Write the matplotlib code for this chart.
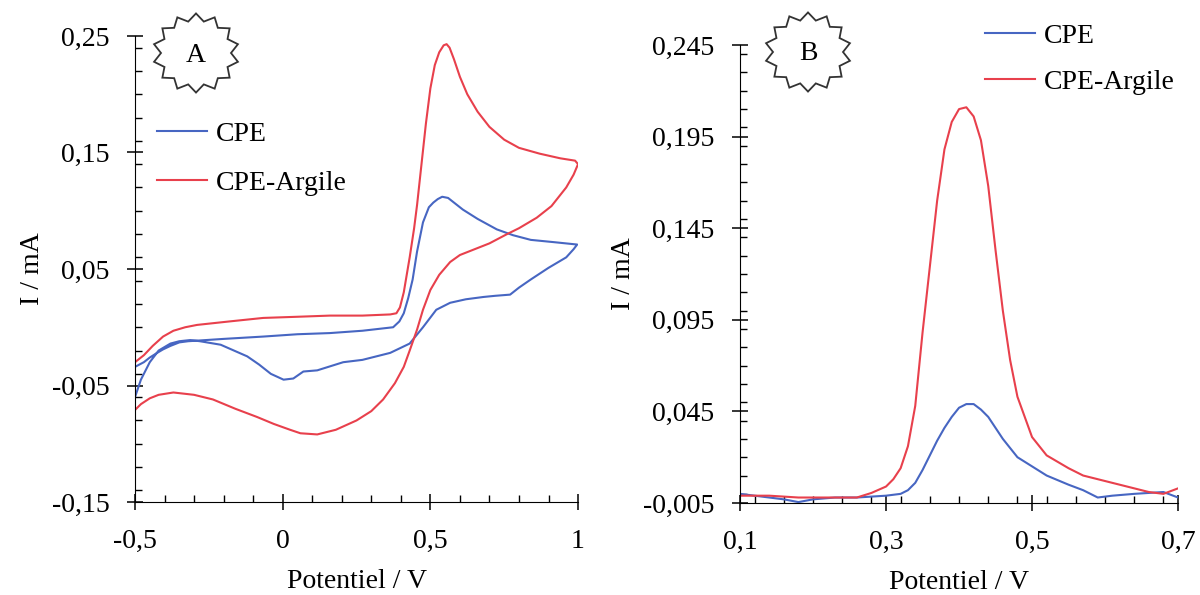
import matplotlib
matplotlib.use("Agg")
import matplotlib.pyplot as plt
from matplotlib.ticker import MultipleLocator, FixedLocator, FuncFormatter
from matplotlib.patches import Polygon
import numpy as np

plt.rcParams['font.family'] = ['Liberation Serif', 'DejaVu Serif']
plt.rcParams['font.size'] = 20

# ---- panel A : voltammetrie cyclique (potentiel V, courant mA)
cpe_cv_x = [-0.50, -0.47, -0.45, -0.425, -0.405, -0.38, -0.35, -0.32, -0.20, -0.066, 0.05, 0.16, 0.27,
            0.374, 0.395, 0.41, 0.425, 0.44, 0.455, 0.475, 0.495, 0.51, 0.525, 0.54, 0.56, 0.585,
            0.61, 0.66, 0.725, 0.78, 0.84, 0.92, 0.997,
            0.985, 0.96, 0.90, 0.84, 0.80, 0.77, 0.72, 0.68, 0.62, 0.567, 0.52, 0.475, 0.43, 0.364,
            0.27, 0.205, 0.117, 0.07, 0.036, 0.003, -0.04, -0.08, -0.12, -0.21, -0.28, -0.313,
            -0.35, -0.38, -0.42, -0.45, -0.48, -0.50]
cpe_cv_y = [-0.034, -0.030, -0.026, -0.022, -0.019, -0.016, -0.013, -0.012, -0.010, -0.008, -0.006,
            -0.005, -0.003, 0.000, 0.005, 0.012, 0.025, 0.041, 0.065, 0.090, 0.103, 0.107, 0.110,
            0.112, 0.111, 0.106, 0.101, 0.093, 0.084, 0.079, 0.075, 0.073, 0.071,
            0.067, 0.060, 0.051, 0.041, 0.034, 0.028, 0.027, 0.026, 0.024, 0.021, 0.015, 0.000,
            -0.014, -0.022, -0.028, -0.030, -0.037, -0.038, -0.044, -0.045, -0.040, -0.032, -0.025,
            -0.015, -0.012, -0.011, -0.012, -0.014, -0.020, -0.030, -0.045, -0.060]

arg_cv_x = [-0.50, -0.47, -0.44, -0.405, -0.37, -0.33, -0.29, -0.18, -0.066, 0.05, 0.16, 0.27,
            0.364, 0.385, 0.397, 0.41, 0.43, 0.445, 0.455, 0.47, 0.485, 0.50, 0.515, 0.53, 0.545,
            0.555, 0.565, 0.58, 0.60, 0.625, 0.66, 0.70, 0.75, 0.80, 0.87, 0.94, 0.99, 1.0,
            0.985, 0.96, 0.91, 0.86, 0.80, 0.76, 0.70, 0.65, 0.60, 0.567, 0.53, 0.50, 0.475,
            0.455, 0.43, 0.41, 0.38, 0.34, 0.30, 0.25, 0.18, 0.117, 0.06, 0.025, -0.03, -0.087,
            -0.16, -0.236, -0.30, -0.37, -0.42, -0.45, -0.48, -0.50]
arg_cv_y = [-0.030, -0.024, -0.016, -0.008, -0.003, 0.000, 0.002, 0.005, 0.008, 0.009, 0.010,
            0.010, 0.011, 0.012, 0.017, 0.030, 0.060, 0.085, 0.105, 0.140, 0.175, 0.205, 0.225,
            0.236, 0.242, 0.243, 0.240, 0.230, 0.215, 0.200, 0.185, 0.172, 0.161, 0.154, 0.149,
            0.145, 0.143, 0.140,
            0.131, 0.120, 0.104, 0.094, 0.085, 0.080, 0.072, 0.067, 0.062, 0.056, 0.045, 0.032,
            0.015, -0.002, -0.020, -0.034, -0.048, -0.062, -0.072, -0.080, -0.088, -0.092, -0.091,
            -0.088, -0.083, -0.077, -0.070, -0.062, -0.058, -0.056, -0.058, -0.061, -0.066, -0.071]

# ---- panel B : voltammetrie a impulsion differentielle
dpv_x = [0.10, 0.12, 0.14, 0.16, 0.18, 0.20, 0.23, 0.26, 0.28, 0.30, 0.31, 0.32, 0.33, 0.34,
         0.35, 0.36, 0.37, 0.38, 0.39, 0.40, 0.41, 0.42, 0.43, 0.44, 0.45, 0.46, 0.47,
         0.48, 0.50, 0.52, 0.55, 0.57, 0.59, 0.61, 0.64, 0.66, 0.68, 0.70]
cpe_dpv = [0.000, -0.001, -0.002, -0.003, -0.0045, -0.003, -0.002, -0.002, -0.0015, -0.001, -0.0005,
           0.000, 0.002, 0.006, 0.013, 0.021, 0.029, 0.036, 0.042, 0.047, 0.049, 0.049, 0.046,
           0.042, 0.036, 0.030, 0.025, 0.020, 0.015, 0.010, 0.005, 0.002, -0.002, -0.001, 0.000,
           0.0005, 0.001, -0.002]
arg_dpv = [-0.001, -0.001, -0.001, -0.0015, -0.002, -0.002, -0.002, -0.002, 0.0005, 0.004, 0.008,
           0.014, 0.026, 0.048, 0.088, 0.124, 0.160, 0.188, 0.203, 0.210, 0.211, 0.206, 0.193,
           0.168, 0.133, 0.100, 0.073, 0.053, 0.031, 0.021, 0.014, 0.010, 0.008, 0.006, 0.003,
           0.001, 0.000, 0.003]

xticks_a = [-0.5, 0, 0.5, 1]
yticks_a = [-0.15, -0.05, 0.05, 0.15, 0.25]
xticks_b = [0.1, 0.3, 0.5, 0.7]
yticks_b = [-0.005, 0.045, 0.095, 0.145, 0.195, 0.245]

blue = '#4766c2'
red = '#e8404c'


def virgule(v, pos=None):
    s = ('%.3f' % v).rstrip('0').rstrip('.')
    if s in ('-0', ''):
        s = '0'
    return s.replace('.', ',')


def style(ax, xt, yt, xminor, yminor):
    for side in ['top', 'right']:
        ax.spines[side].set_visible(False)
    ax.xaxis.set_major_locator(FixedLocator(xt))
    ax.yaxis.set_major_locator(FixedLocator(yt))
    ax.xaxis.set_minor_locator(MultipleLocator(xminor))
    ax.yaxis.set_minor_locator(MultipleLocator(yminor))
    ax.xaxis.set_major_formatter(FuncFormatter(virgule))
    ax.yaxis.set_major_formatter(FuncFormatter(virgule))
    ax.tick_params(which='major', direction='inout', length=11, width=1.1)
    ax.tick_params(which='minor', direction='in', length=5, width=1.0)
    ax.tick_params(axis='y', which='major', pad=13)
    ax.tick_params(axis='x', which='major', pad=14)
    ax.set_xlabel('Potentiel / V', labelpad=11)
    ax.set_ylabel('I / mA', labelpad=5)


fig = plt.figure(figsize=(12, 5.95), dpi=100)

axA = fig.add_axes([0.1125, 0.1563, 0.3692, 0.7832])
axA.plot(cpe_cv_x, cpe_cv_y, color=blue, lw=1.5, label='CPE')
axA.plot(arg_cv_x, arg_cv_y, color=red, lw=1.5, label='CPE-Argile')
axA.set_xlim(-0.5, 1)
axA.set_ylim(-0.15, 0.25)
style(axA, xticks_a, yticks_a, 0.1, 0.02)
axA.legend(loc='upper left', bbox_to_anchor=(0.025, 0.84), frameon=False,
           handlelength=1.8, handletextpad=0.3, labelspacing=0.84, borderaxespad=0)

axB = fig.add_axes([0.6167, 0.1546, 0.365, 0.7698])
axB.plot(dpv_x, cpe_dpv, color=blue, lw=1.5, label='CPE')
axB.plot(dpv_x, arg_dpv, color=red, lw=1.5, label='CPE-Argile')
axB.set_xlim(0.1, 0.7)
axB.set_ylim(-0.005, 0.245)
style(axB, xticks_b, yticks_b, 0.04, 0.01)
axB.legend(loc='upper left', bbox_to_anchor=(0.535, 1.071), frameon=False,
           handlelength=1.8, handletextpad=0.3, labelspacing=0.73, borderaxespad=0)

# badges en etoile
over = fig.add_axes([0, 0, 1, 1], zorder=5)
over.set_xlim(0, 1200)
over.set_ylim(595, 0)
over.axis('off')
over.patch.set_alpha(0)
for cx, cy, letter in [(196, 53, 'A'), (808, 52, 'B')]:
    n = 14
    ang = np.linspace(0, 2 * np.pi, 2 * n, endpoint=False) + np.pi / 2
    rad = np.where(np.arange(2 * n) % 2 == 0, 43, 35)
    pts = np.column_stack([cx + rad * np.cos(ang), cy - rad * 0.92 * np.sin(ang)])
    over.add_patch(Polygon(pts, closed=True, fill=False, edgecolor='#333333', lw=1.3))
    over.text(cx, cy + 2, letter, ha='center', va='center', fontsize=20)

fig.savefig('out.png', dpi=100)
